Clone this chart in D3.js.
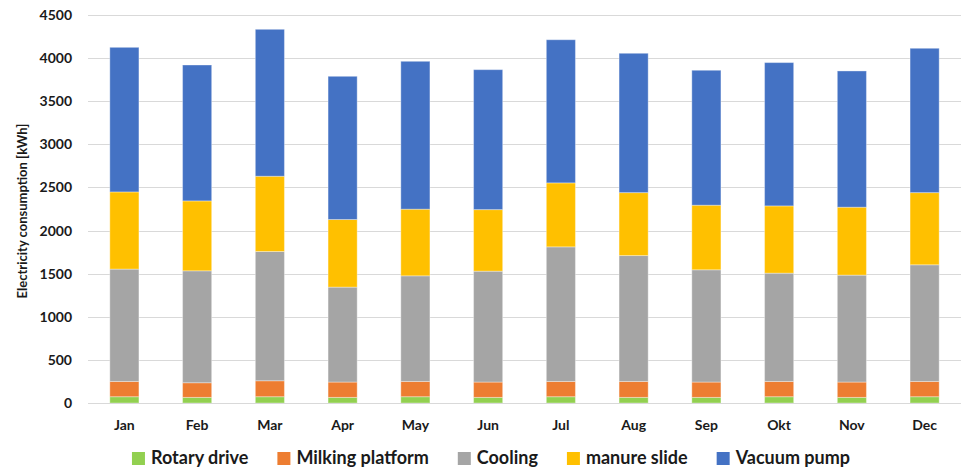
<!DOCTYPE html>
<html>
<head>
<meta charset="utf-8">
<script src="https://cdn.jsdelivr.net/npm/d3@7"></script>
<style>
  html, body { margin: 0; padding: 0; background: #fff; }
  svg { display: block; font-family: Lato, "Open Sans", "Liberation Sans", sans-serif; }
</style>
</head>
<body>
<svg id="chart" width="961" height="470"></svg>
<script>
// Monthly electricity consumption of a milking parlour, by consumer [kWh]
const months = ["Jan", "Feb", "Mar", "Apr", "May", "Jun", "Jul", "Aug", "Sep", "Okt", "Nov", "Dec"];
const seriesNames = ["Rotary drive", "Milking platform", "Cooling", "manure slide", "Vacuum pump"];
const seriesColors = ["#92d050", "#ed7d31", "#a5a5a5", "#ffc000", "#4472c4"];

const rotaryDrive     = [73, 65, 73, 65, 73, 65, 73, 65, 65, 73, 65, 73];
const milkingPlatform = [177, 170, 185, 178, 177, 178, 177, 185, 178, 177, 178, 177];
const cooling         = [1303, 1298, 1499, 1101, 1225, 1286, 1561, 1460, 1302, 1256, 1240, 1353];
const manureSlide     = [895, 811, 873, 784, 773, 714, 742, 730, 749, 780, 788, 837];
const vacuumPump      = [1677, 1576, 1704, 1661, 1715, 1623, 1660, 1616, 1565, 1662, 1580, 1674];

const yTicks = [0, 500, 1000, 1500, 2000, 2500, 3000, 3500, 4000, 4500];

const seriesValues = [rotaryDrive, milkingPlatform, cooling, manureSlide, vacuumPump];
const rows = months.map((m, i) => {
  const r = { month: m };
  seriesNames.forEach((s, k) => { r[s] = seriesValues[k][i]; });
  return r;
});

const svg = d3.select("#chart");
const margin = { left: 88, right: 0, top: 15, bottom: 67 };
const W = 961, H = 470;

const x = d3.scaleBand().domain(months).range([margin.left, W - margin.right]).paddingInner(0.6).paddingOuter(0.3);
const y = d3.scaleLinear().domain([0, 4500]).range([H - margin.bottom, margin.top]);

// horizontal gridlines
svg.append("g")
  .attr("transform", `translate(${margin.left},0)`)
  .call(d3.axisLeft(y).tickValues(yTicks).tickSize(-(W - margin.left - margin.right)).tickFormat(""))
  .call(g => g.select(".domain").remove())
  .call(g => g.selectAll("line").attr("stroke", "#d9d9d9").attr("stroke-width", 1).attr("shape-rendering", "crispEdges"));

// y tick labels
svg.append("g")
  .attr("transform", `translate(${margin.left},0)`)
  .call(d3.axisLeft(y).tickValues(yTicks).tickSize(0).tickPadding(16).tickFormat(d3.format("d")))
  .call(g => g.select(".domain").remove())
  .call(g => g.selectAll("text")
    .attr("font-size", 14).attr("font-weight", "bold").attr("fill", "#1a1a1a")
    .attr("font-family", "Lato, 'Open Sans', sans-serif"));

// stacked bars
const stack = d3.stack().keys(seriesNames)(rows);
svg.append("g").selectAll("g")
  .data(stack)
  .join("g")
  .attr("fill", (d, i) => seriesColors[i])
  .selectAll("rect")
  .data(d => d)
  .join("rect")
  .attr("x", d => x(d.data.month))
  .attr("width", x.bandwidth())
  .attr("y", d => y(d[1]))
  .attr("height", d => y(d[0]) - y(d[1]))
  .attr("stroke", "#ffffff")
  .attr("stroke-opacity", 0.35)
  .attr("stroke-width", 1);

// x axis
svg.append("g")
  .attr("transform", `translate(0,${H - margin.bottom})`)
  .call(d3.axisBottom(x).tickSize(0).tickPadding(17))
  .call(g => g.select(".domain").attr("stroke", "#d9d9d9"))
  .call(g => g.selectAll("text")
    .attr("font-size", 14).attr("font-weight", "bold").attr("fill", "#1a1a1a")
    .attr("font-family", "Lato, 'Open Sans', sans-serif"));

// y axis title
svg.append("text")
  .attr("transform", `translate(27,${(margin.top + H - margin.bottom) / 2 + 2}) rotate(-90)`)
  .attr("text-anchor", "middle")
  .attr("font-size", 13).attr("font-weight", "bold").attr("fill", "#1a1a1a")
  .text("Electricity consumption [kWh]");

// legend
const legend = svg.append("g").attr("transform", `translate(0,458)`);
const items = legend.selectAll("g").data(seriesNames).join("g");
items.append("rect")
  .attr("y", -6).attr("width", 13).attr("height", 13)
  .attr("fill", (d, i) => seriesColors[i]);
items.append("text")
  .attr("x", 19).attr("dy", "0.36em")
  .attr("font-size", 18).attr("font-weight", "bold").attr("fill", "#1a1a1a")
  .text(d => d);
let widths = [];
items.each(function () { widths.push(19 + d3.select(this).select("text").node().getComputedTextLength()); });
const gap = 29;
const total = d3.sum(widths) + gap * (widths.length - 1);
let cx = 491 - total / 2;
items.attr("transform", (d, i) => { const t = `translate(${cx},0)`; cx += widths[i] + gap; return t; });
</script>
</body>
</html>
